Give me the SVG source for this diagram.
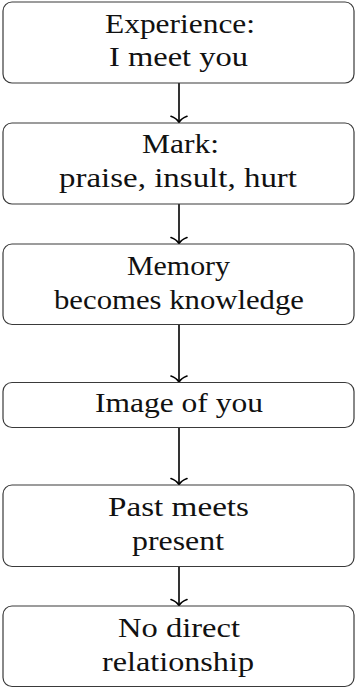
<svg xmlns="http://www.w3.org/2000/svg" width="355" height="688" viewBox="0 0 355 688">
  <style>
    .box rect { fill: #ffffff; stroke: #3a3a3a; stroke-width: 1.2; }
    .box text { font-family: "Liberation Serif", "DejaVu Serif", serif; font-size: 28px; fill: #111111; text-anchor: middle; }
    .edges path { fill: none; stroke: #000000; stroke-width: 1.6; stroke-linecap: round; stroke-linejoin: round; }
  </style>

  <!-- vertical connectors with curved open arrowheads -->
  <g class="edges">
    <path d="M179,83 V122.3"/>
    <path d="M171,116.3 Q176.5,118.3 179,122.3 Q181.5,118.3 187,116.3"/>
    <path d="M179,204 V243.5"/>
    <path d="M171,237.5 Q176.5,239.5 179,243.5 Q181.5,239.5 187,237.5"/>
    <path d="M179,324.5 V382"/>
    <path d="M171,376 Q176.5,378 179,382 Q181.5,378 187,376"/>
    <path d="M179,427.5 V484.5"/>
    <path d="M171,478.5 Q176.5,480.5 179,484.5 Q181.5,480.5 187,478.5"/>
    <path d="M179,566.5 V605.5"/>
    <path d="M171,599.5 Q176.5,601.5 179,605.5 Q181.5,601.5 187,599.5"/>
  </g>

  <g id="experience" class="box">
    <rect x="3" y="2" width="351" height="81" rx="9"/>
    <text x="180" y="32.5" textLength="150" lengthAdjust="spacingAndGlyphs">Experience:</text>
    <text x="178.5" y="66" textLength="139" lengthAdjust="spacingAndGlyphs">I meet you</text>
  </g>

  <g id="mark" class="box">
    <rect x="3" y="123" width="351" height="81" rx="9"/>
    <text x="180.5" y="153" textLength="77" lengthAdjust="spacingAndGlyphs">Mark:</text>
    <text x="178" y="187" textLength="238" lengthAdjust="spacingAndGlyphs">praise, insult, hurt</text>
  </g>

  <g id="memory" class="box">
    <rect x="3" y="244" width="351" height="80.5" rx="9"/>
    <text x="178.5" y="274.5" textLength="103" lengthAdjust="spacingAndGlyphs">Memory</text>
    <text x="179" y="308.5" textLength="250" lengthAdjust="spacingAndGlyphs">becomes knowledge</text>
  </g>

  <g id="image" class="box">
    <rect x="3" y="382.5" width="351" height="45" rx="9"/>
    <text x="179" y="412.3" textLength="168" lengthAdjust="spacingAndGlyphs">Image of you</text>
  </g>

  <g id="past" class="box">
    <rect x="3" y="485" width="351" height="81.5" rx="9"/>
    <text x="178.5" y="515.5" textLength="141" lengthAdjust="spacingAndGlyphs">Past meets</text>
    <text x="178" y="550" textLength="92" lengthAdjust="spacingAndGlyphs">present</text>
  </g>

  <g id="relationship" class="box">
    <rect x="3" y="606" width="351" height="80.5" rx="9"/>
    <text x="179" y="636.5" textLength="122" lengthAdjust="spacingAndGlyphs">No direct</text>
    <text x="178" y="671" textLength="152" lengthAdjust="spacingAndGlyphs">relationship</text>
  </g>
</svg>
